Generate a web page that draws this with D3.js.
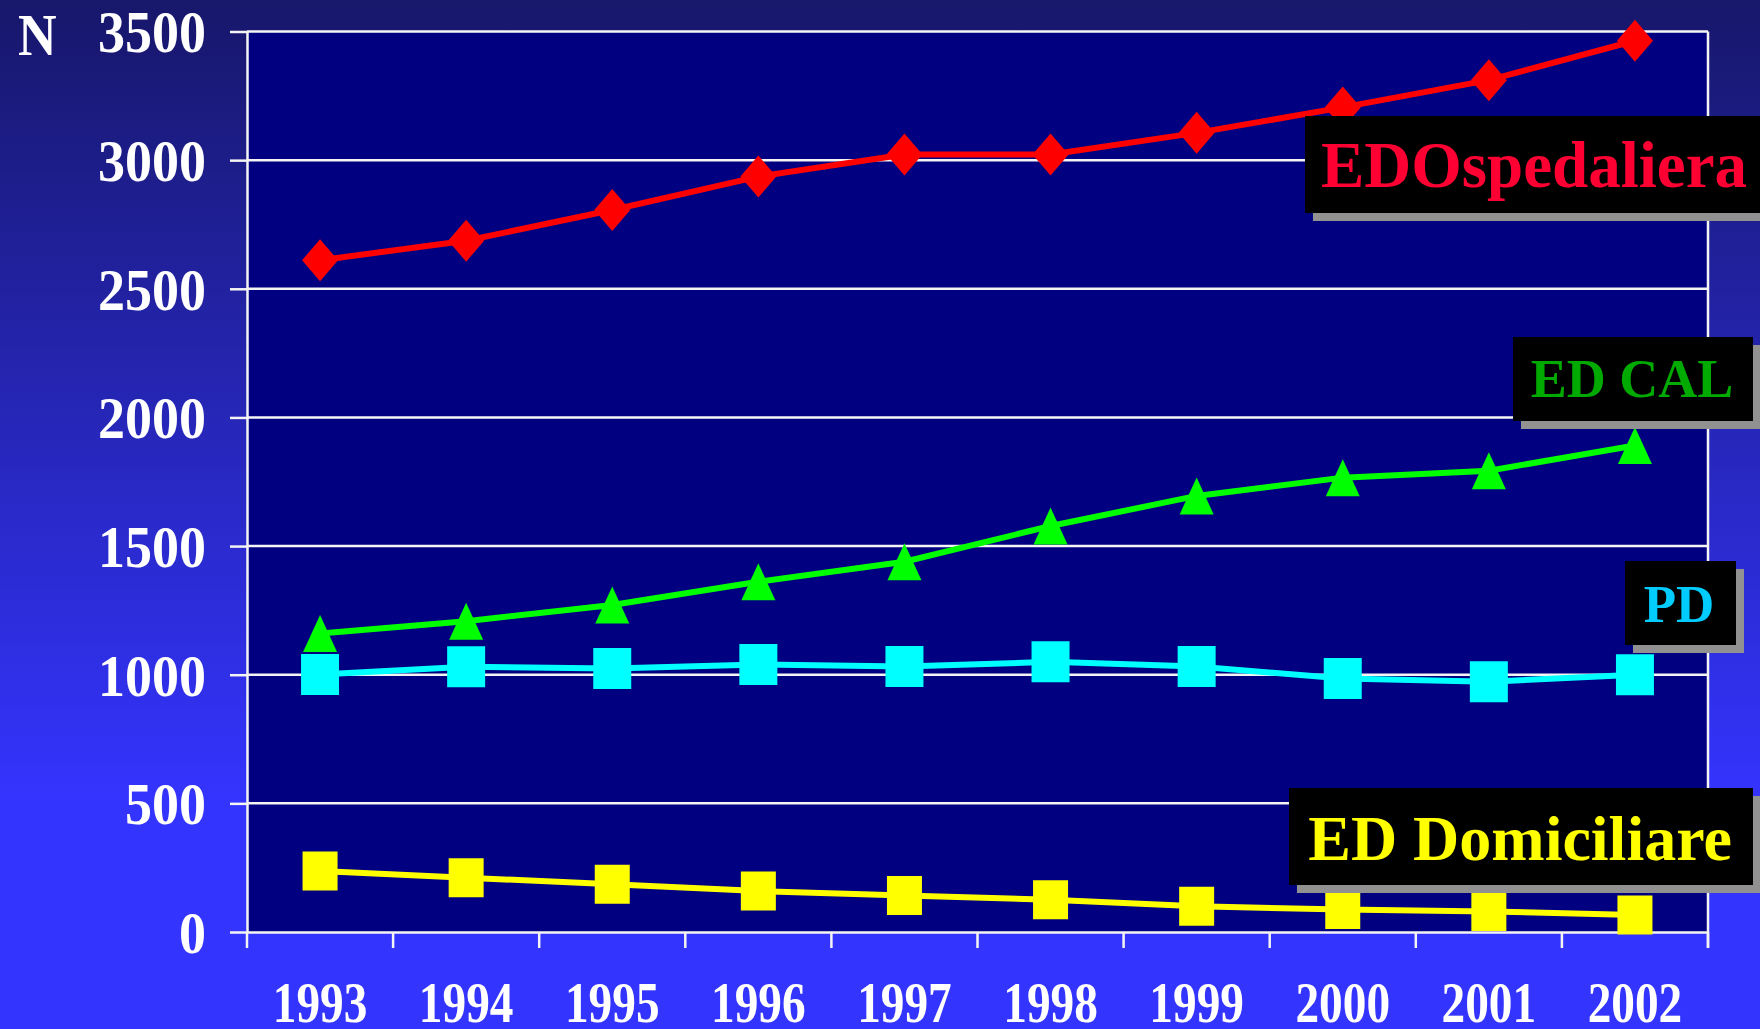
<!DOCTYPE html>
<meta charset="utf-8">
<style>

body {
  margin: 0;
  background: #3434ff;
}

text {
  font-family: "Liberation Serif", "Times New Roman", serif;
  font-weight: bold;
}

</style>
<script src="https://d3js.org/d3.v7.min.js"></script>
<svg width="1760" height="1029"></svg>
<script>

  // data
  var years = [1993, 1994, 1995, 1996, 1997, 1998, 1999, 2000, 2001, 2002];
  var ospedaliera = [2611, 2687, 2806, 2936, 3022, 3022, 3106, 3205, 3311, 3464];
  var edCal = [1160, 1208, 1271, 1361, 1439, 1578, 1695, 1766, 1793, 1891];
  var pd = [1001, 1031, 1024, 1040, 1032, 1050, 1032, 985, 973, 1000];
  var domiciliare = [237, 211, 186, 159, 142, 125, 100, 87, 80, 66];
  var yTicks = [0, 500, 1000, 1500, 2000, 2500, 3000, 3500];
  var seriesNames = ["EDOspedaliera", "ED CAL", "PD", "ED Domiciliare"];
  var yLabel = "N";

  var svg = d3.select("svg");
  var width = +svg.attr("width");
  var height = +svg.attr("height");

  var plotLeft = 247, plotRight = 1708, plotTop = 31.5, plotBottom = 932;

  var x = d3.scaleBand().domain(years).range([plotLeft, plotRight]).padding(0);
  var y = d3.scaleLinear().domain([0, 3500]).range([plotBottom, plotTop]);
  var cx = function(d) { return x(d) + x.bandwidth() / 2; };

  // background gradient
  var grad = svg.append("defs").append("linearGradient")
      .attr("id", "bg").attr("x1", 0).attr("y1", 0).attr("x2", 0).attr("y2", 1);
  grad.append("stop").attr("offset", "0%").attr("stop-color", "#17176b");
  grad.append("stop").attr("offset", "78%").attr("stop-color", "#3434ff");
  grad.append("stop").attr("offset", "100%").attr("stop-color", "#3434ff");

  svg.append("rect").attr("width", width).attr("height", height).attr("fill", "url(#bg)");

  svg.append("rect")
      .attr("x", plotLeft).attr("y", plotTop)
      .attr("width", plotRight - plotLeft).attr("height", plotBottom - plotTop)
      .attr("fill", "#000080");

  // gridlines
  svg.append("g").selectAll("line")
    .data(yTicks.filter(function(d) { return d > 0; }))
    .enter().append("line")
      .attr("x1", plotLeft).attr("x2", plotRight)
      .attr("y1", function(d) { return y(d); })
      .attr("y2", function(d) { return y(d); })
      .attr("stroke", "#f4f4f4").attr("stroke-width", 2.5);

  // right border
  svg.append("line")
      .attr("x1", plotRight).attr("x2", plotRight)
      .attr("y1", plotTop).attr("y2", plotBottom + 16)
      .attr("stroke", "#f4f4f4").attr("stroke-width", 2.5);

  // y axis
  var yAxis = svg.append("g")
      .attr("transform", "translate(" + plotLeft + ",0)")
      .call(d3.axisLeft(y).tickValues(yTicks).tickFormat(d3.format("d"))
        .tickSize(17).tickSizeOuter(0));
  yAxis.selectAll("path, line").attr("stroke", "#f4f4f4").attr("stroke-width", 2.5);
  yAxis.selectAll("text")
      .attr("x", null).attr("dy", "0.34em")
      .attr("transform", "translate(-41,0) scale(0.9,1)")
      .attr("text-anchor", "end")
      .attr("fill", "#fff")
      .style("font-size", "60px")
      .style("font-family", "Liberation Serif")
      .style("font-weight", "bold");

  // x axis
  var xAxis = svg.append("g")
      .attr("transform", "translate(0," + plotBottom + ")")
      .call(d3.axisBottom(x).tickSize(0).tickSizeOuter(0));
  xAxis.select(".domain").attr("stroke", "#f4f4f4").attr("stroke-width", 2.5);
  xAxis.selectAll("text")
      .attr("y", null).attr("dy", null)
      .attr("transform", "translate(0,90) scale(0.83,1)")
      .attr("fill", "#fff")
      .style("font-size", "57px")
      .style("font-family", "Liberation Serif")
      .style("font-weight", "bold");
  xAxis.selectAll(".edge")
    .data(years.map(function(d) { return x(d); }).concat([plotRight]))
    .enter().append("line")
      .attr("class", "edge")
      .attr("x1", function(d) { return d; }).attr("x2", function(d) { return d; })
      .attr("y1", 0).attr("y2", 16)
      .attr("stroke", "#f4f4f4").attr("stroke-width", 2.5);

  svg.append("text")
      .attr("transform", "translate(18,55) scale(0.89,1)")
      .attr("fill", "#fff")
      .style("font-size", "60px")
      .text(yLabel);

  // markers
  function shape(kind, w, h) {
    var a = w / 2, b = h / 2;
    if (kind == "diamond") return "M0," + (-b) + "L" + a + ",0L0," + b + "L" + (-a) + ",0Z";
    if (kind == "triangle") return "M0," + (-b) + "L" + a + "," + b + "L" + (-a) + "," + b + "Z";
    return "M" + (-a) + "," + (-b) + "H" + a + "V" + b + "H" + (-a) + "Z";
  }

  var series = [
    {values: ospedaliera, color: "#ff0000", kind: "diamond", w: 36, h: 42},
    {values: edCal, color: "#00ff00", kind: "triangle", w: 34, h: 37},
    {values: pd, color: "#00ffff", kind: "square", w: 38, h: 41},
    {values: domiciliare, color: "#ffff00", kind: "square", w: 35, h: 39}
  ];

  var line = d3.line()
      .x(function(d, i) { return cx(years[i]); })
      .y(function(d) { return y(d); });

  series.forEach(function(s) {
    var g = svg.append("g");
    g.append("path")
        .attr("d", line(s.values))
        .attr("fill", "none")
        .attr("stroke", s.color)
        .attr("stroke-width", 6);
    g.selectAll(".mark")
      .data(s.values)
      .enter().append("path")
        .attr("class", "mark")
        .attr("transform", function(d, i) { return "translate(" + cx(years[i]) + "," + y(d) + ")"; })
        .attr("d", shape(s.kind, s.w, s.h))
        .attr("fill", s.color);
  });

  // label boxes
  var boxes = [
    {x: 1305, y: 116, w: 470, h: 97, tx: 1534, ty: 187, size: 65, color: "#ff0033"},
    {x: 1513, y: 337, w: 240, h: 84, tx: 1632, ty: 397, size: 54, color: "#00aa00"},
    {x: 1625, y: 561, w: 111, h: 84, tx: 1679, ty: 622, size: 53, color: "#00ccff"},
    {x: 1289, y: 788, w: 464, h: 97, tx: 1520, ty: 860, size: 64, color: "#ffff00"}
  ];

  var lab = svg.append("g").selectAll("g")
    .data(boxes)
    .enter().append("g");
  lab.append("rect")
      .attr("x", function(d) { return d.x + 8; }).attr("y", function(d) { return d.y + 8; })
      .attr("width", function(d) { return d.w; }).attr("height", function(d) { return d.h; })
      .attr("fill", "#919191");
  lab.append("rect")
      .attr("x", function(d) { return d.x; }).attr("y", function(d) { return d.y; })
      .attr("width", function(d) { return d.w; }).attr("height", function(d) { return d.h; })
      .attr("fill", "#000");
  lab.append("text")
      .attr("x", function(d) { return d.tx; }).attr("y", function(d) { return d.ty; })
      .attr("text-anchor", "middle")
      .attr("fill", function(d) { return d.color; })
      .style("font-size", function(d) { return d.size + "px"; })
      .text(function(d, i) { return seriesNames[i]; });

</script>
